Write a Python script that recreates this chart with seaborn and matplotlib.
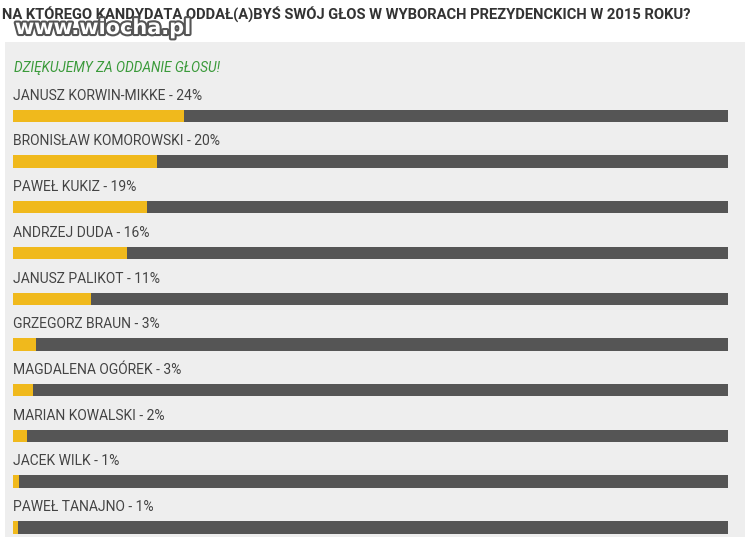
import matplotlib.pyplot as plt
import matplotlib.patheffects as pe
import pandas as pd
import seaborn as sns

candidates = ["JANUSZ KORWIN-MIKKE", "BRONISŁAW KOMOROWSKI", "PAWEŁ KUKIZ", "ANDRZEJ DUDA",
              "JANUSZ PALIKOT", "GRZEGORZ BRAUN", "MAGDALENA OGÓREK", "MARIAN KOWALSKI",
              "JACEK WILK", "PAWEŁ TANAJNO"]
percent = [24, 20, 19, 16, 11, 3, 3, 2, 1, 1]
shown = [23.9, 20.1, 18.7, 16.0, 10.9, 3.2, 2.8, 2.0, 0.9, 0.7]

df = pd.DataFrame({"name": candidates, "pct": shown, "full": [100] * len(candidates)})

W, H = 750, 537
fig = plt.figure(figsize=(7.5, 5.37), dpi=100)
fig.patch.set_facecolor("white")

# light panel behind the poll
bg = fig.add_axes([5 / W, 0, 740 / W, 1 - 42 / H])
bg.set_facecolor("#eeeeee")
bg.set_xticks([])
bg.set_yticks([])
for s in bg.spines.values():
    s.set_visible(False)

ax = fig.add_axes([13 / W, 0, 715 / W, 1 - 93 / H])
ax.set_facecolor("none")
sns.barplot(data=df, x="full", y="name", orient="h", color="#555555", width=0.27,
            saturation=1, ax=ax)
sns.barplot(data=df, x="pct", y="name", orient="h", color="#f0b91c", width=0.27,
            saturation=1, ax=ax)
ax.set_xlim(0, 100)
ax.set_ylim(9.21, -0.5)
ax.axis("off")

for i, (n, p) in enumerate(zip(candidates, percent)):
    ax.text(0, i - 0.29, f"{n} - {p}%", fontsize=10, color="#444444", family="Roboto",
            va="bottom", ha="left")

fig.text(14 / W, 1 - 68 / H, "DZIĘKUJEMY ZA ODDANIE GŁOSU!", fontsize=9.8, color="#3a9a3a",
         style="italic", family="Roboto", va="center")
fig.text(2 / W, 1 - 14 / H, "NA KTÓREGO KANDYDATA ODDAŁ(A)BYŚ SWÓJ GŁOS W WYBORACH PREZYDENCKICH W 2015 ROKU?",
         fontsize=10.6, weight="bold", color="#333333", family="Roboto", va="center")
fig.text(15 / W, 1 - 28 / H, "www.wiocha.pl", fontsize=15, weight="bold", color="white",
         family="DejaVu Sans", va="center",
         path_effects=[pe.withStroke(linewidth=3, foreground="#555555")])

fig.savefig("out.png", dpi=100)
